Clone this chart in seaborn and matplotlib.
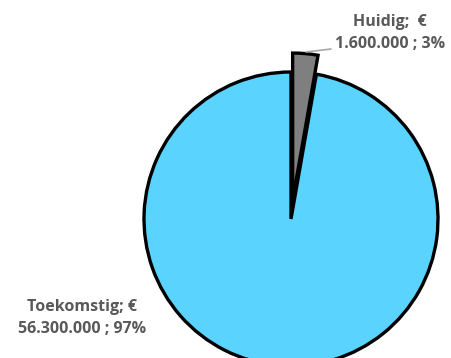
import matplotlib
matplotlib.use("Agg")
import matplotlib.pyplot as plt
import seaborn as sns

# Investment amounts (EUR) per situation
labels = ["Huidig", "Toekomstig"]
amounts = [1600000, 56300000]
shares = ["3%", "97%"]
colors = ["#7f7f7f", "#5bd3ff"]

sns.set_theme(style="white")
plt.rcParams["font.family"] = ["Open Sans", "DejaVu Sans"]

W, H = 451, 358
fig = plt.figure(figsize=(W / 100, H / 100), dpi=100)
ax = fig.add_axes([0, 0, 1, 1])

cx, cy, r = 291, H - 219, 147
pull = 19  # outward offset of the small slice, in pixels
wedges, _ = ax.pie(
    amounts,
    colors=colors,
    startangle=90,
    counterclock=False,
    explode=[pull, 0],
    center=(cx, cy),
    radius=r,
    frame=True,
    wedgeprops=dict(edgecolor="black", linewidth=2.4, joinstyle="miter"),
)
ax.set_xlim(0, W)
ax.set_ylim(0, H)
ax.set_aspect("equal")
ax.axis("off")


def fmt_eur(v):
    return f"{v:,.0f}".replace(",", ".")


txt_kw = dict(color="#595959", fontsize=11.5, fontweight="bold",
              ha="center", va="center", linespacing=1.42)

# Label for the small slice with a leader line
ax.plot([306, 331], [H - 52, H - 49], color="#a6a6a6", lw=1.2, zorder=1)
ax.text(390, H - 33, f"{labels[0]};  €\n{fmt_eur(amounts[0])} ; {shares[0]}", **txt_kw)

# Label for the large slice
ax.text(82, H - 318, f"{labels[1]}; €\n{fmt_eur(amounts[1])} ; {shares[1]}", **txt_kw)

fig.savefig("out.png", dpi=100)
